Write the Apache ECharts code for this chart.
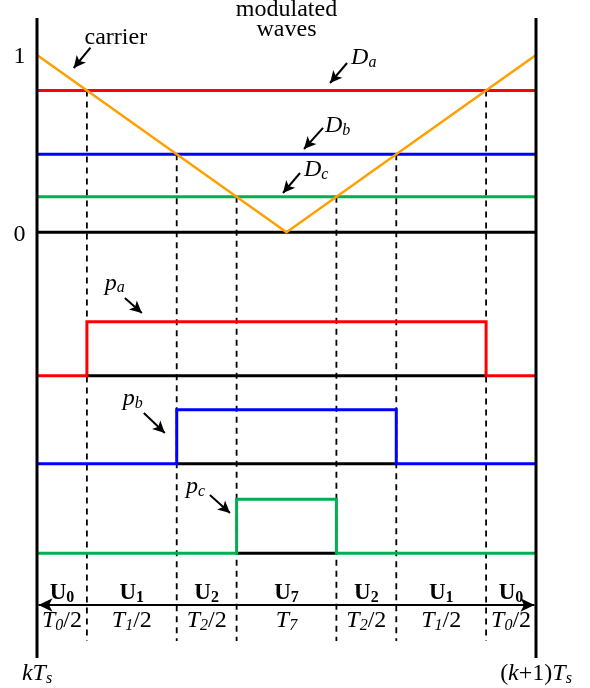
<!DOCTYPE html>
<html>
<head>
<meta charset="utf-8">
<script src="https://cdn.jsdelivr.net/npm/echarts@6/dist/echarts.min.js"></script>
<style>
  html, body { margin: 0; padding: 0; background: #fff; }
  #chart { width: 590px; height: 688px; }
</style>
</head>
<body>
<div id="chart"></div>
<script>
// One switching period kTs .. (k+1)Ts, normalised to 0 .. 1.
// Triangular carrier
const carrierTime = [0, 0.5, 1];
const carrierValue = [1, 0, 1];
const carrierTickValues = [1, 0];
const carrierTickLabels = ['1', '0'];

// Modulated waves: duty ratios of the three phases
const phaseNames = ['a', 'b', 'c'];
const dutyRatios = [0.8, 0.44, 0.2];

// Voltage vectors applied in each sub-interval and their dwell times
const vectorIndex = ['0', '1', '2', '7', '2', '1', '0'];
const dwellIndex = ['0', '1', '2', '7', '2', '1', '0'];
const dwellHalved = [true, true, true, false, true, true, true];

// ---- layout (plot units: carrier 0..1 vertically, period 0..1 horizontally)
const phaseColors = ['#ff0000', '#0000ff', '#00b050'];
const carrierColor = '#ffa000';
const Y_MAX = 1.3102, Y_MIN = -2.5702;
const AXIS_TOP = 1.2087, AXIS_BOTTOM = -2.401;
const DASH_BOTTOM = -2.305;
const ARROW_Y = -2.102;
const PULSE_BASE = [-0.8088, -1.3051, -1.8105];
const PULSE_HEIGHT = 0.3046;
const VECTOR_ROW = -2.033, DWELL_ROW = -2.19, PERIOD_ROW = -2.492;

const serif = '"Liberation Serif", "Times New Roman", serif';

// crossings of a level with the carrier (linear on each carrier segment)
function carrierCrossings(level) {
  const out = [];
  for (let i = 0; i < carrierTime.length - 1; i++) {
    const v0 = carrierValue[i], v1 = carrierValue[i + 1];
    if (v0 !== v1 && (level - v0) * (level - v1) <= 0) {
      out.push(carrierTime[i] + (level - v0) / (v1 - v0) * (carrierTime[i + 1] - carrierTime[i]));
    }
  }
  return out;
}

const switching = dutyRatios.map(d => carrierCrossings(d)); // [on, off] per phase
const boundaries = [carrierTime[0]]
  .concat(switching.map(s => s[0]).sort((a, b) => a - b))
  .concat(switching.map(s => s[1]).sort((a, b) => a - b))
  .concat([carrierTime[carrierTime.length - 1]]);

function path(points, color, width, extra) {
  return Object.assign({
    type: 'line',
    data: points,
    symbol: 'none',
    silent: true,
    animation: false,
    clip: false,
    lineStyle: { color: color, width: width, cap: 'butt', join: 'miter' },
    z: 3
  }, extra || {});
}

const series = [];

// dashed switching instants, from the crossing point down to the time axis
switching.forEach((s, i) => {
  s.forEach(t => {
    series.push(path([[t, dutyRatios[i]], [t, DASH_BOTTOM]], '#000', 1.8, {
      lineStyle: { color: '#000', width: 1.8, type: [6, 5] },
      z: 1
    }));
  });
});

// zero reference of the carrier
series.push(path([[0, 0], [1, 0]], '#000', 3, { z: 2 }));

// modulated waves
dutyRatios.forEach((d, i) => {
  series.push(path([[0, d], [1, d]], phaseColors[i], 3));
});

// switching pulses with their black reference under the high part
dutyRatios.forEach((d, i) => {
  const [on, off] = switching[i];
  const b = PULSE_BASE[i], h = b + PULSE_HEIGHT;
  series.push(path([[on, b], [off, b]], '#000', 3, { z: 2 }));
  series.push(path([[0, b], [on, b], [on, h], [off, h], [off, b], [1, b]], phaseColors[i], 3));
});

// carrier
series.push(path(carrierTime.map((t, i) => [t, carrierValue[i]]), carrierColor, 2.5, { z: 4 }));

// period boundaries kTs and (k+1)Ts
series.push(path([[0, AXIS_TOP], [0, AXIS_BOTTOM]], '#000', 3, { z: 5 }));
series.push(path([[1, AXIS_TOP], [1, AXIS_BOTTOM]], '#000', 3, { z: 5 }));

// pointer arrows of the annotations
const pointers = [
  { from: [0.1071, 1.0412], to: [0.0736, 0.9267] },   // carrier
  { from: [0.6214, 0.9549], to: [0.5873, 0.8421] },   // Da
  { from: [0.5732, 0.5890], to: [0.5351, 0.4698] },   // Db
  { from: [0.5271, 0.3345], to: [0.4930, 0.2217] },   // Dc
  { from: [0.1760, -0.3706], to: [0.2101, -0.4552] }, // pa
  { from: [0.2141, -1.0192], to: [0.2562, -1.1320] }, // pb
  { from: [0.3465, -1.4817], to: [0.3867, -1.5832] }  // pc
];
series.push({
  type: 'line', data: [], silent: true, animation: false,
  markLine: {
    silent: true, animation: false,
    symbol: ['none', 'arrow'], symbolSize: [9, 12],
    label: { show: false },
    emphasis: { disabled: true },
    lineStyle: { color: '#000', width: 2, type: 'solid' },
    data: pointers.map(p => [{ coord: p.from }, { coord: p.to }])
  }
});

// double arrow spanning the period
series.push({
  type: 'line', data: [], silent: true, animation: false,
  markLine: {
    silent: true, animation: false,
    symbol: ['arrow', 'arrow'], symbolSize: [10, 14],
    label: { show: false },
    emphasis: { disabled: true },
    lineStyle: { color: '#000', width: 2.2, type: 'solid' },
    data: [[{ coord: [0.003, ARROW_Y] }, { coord: [0.997, ARROW_Y] }]]
  }
});

const chart = echarts.init(document.getElementById('chart'));
chart.setOption({
  animation: false,
  backgroundColor: '#fff',
  grid: { left: 37, right: 54, top: 0, bottom: 0, containLabel: false },
  xAxis: { type: 'value', min: 0, max: 1, show: false },
  yAxis: { type: 'value', min: Y_MIN, max: Y_MAX, show: false },
  series: series
});

// ---- texts
const rich = {
  r: { fontFamily: serif, fontSize: 24, lineHeight: 26 },
  i: { fontFamily: serif, fontSize: 24, fontStyle: 'italic', lineHeight: 26 },
  is: { fontFamily: serif, fontSize: 16, fontStyle: 'italic', lineHeight: 14, verticalAlign: 'bottom' },
  b: { fontFamily: serif, fontSize: 23, fontWeight: 'bold', lineHeight: 26 },
  bs: { fontFamily: serif, fontSize: 16, fontWeight: 'bold', lineHeight: 14, verticalAlign: 'bottom' }
};

const texts = [
  { text: '{r|carrier}', at: [0.158, 1.10], align: 'center' },
  { text: '{r|modulated}', at: [0.5, 1.257], align: 'center' },
  { text: '{r|waves}', at: [0.5, 1.145], align: 'center' },
  { text: '{i|D}{is|' + phaseNames[0] + '}', at: [0.6294, 0.9859], align: 'left' },
  { text: '{i|D}{is|' + phaseNames[1] + '}', at: [0.5770, 0.6024], align: 'left' },
  { text: '{i|D}{is|' + phaseNames[2] + '}', at: [0.5351, 0.3542], align: 'left' },
  { text: '{i|p}{is|' + phaseNames[0] + '}', at: [0.1358, -0.2876], align: 'left' },
  { text: '{i|p}{is|' + phaseNames[1] + '}', at: [0.1720, -0.9363], align: 'left' },
  { text: '{i|p}{is|' + phaseNames[2] + '}', at: [0.2984, -1.4326], align: 'left' },
  { text: '{i|kT}{is|s}', at: [0, PERIOD_ROW], align: 'center' },
  { text: '{r|(}{i|k}{r|+1)}{i|T}{is|s}', at: [1, PERIOD_ROW], align: 'center' }
];

carrierTickValues.forEach((v, i) => {
  texts.push({ text: '{r|' + carrierTickLabels[i] + '}', at: [-0.035, v - 0.012], align: 'center' });
});

vectorIndex.forEach((k, i) => {
  const mid = (boundaries[i] + boundaries[i + 1]) / 2;
  texts.push({ text: '{b|U}{bs|' + k + '}', at: [mid, VECTOR_ROW], align: 'center' });
  const dw = '{i|T}{is|' + dwellIndex[i] + '}' + (dwellHalved[i] ? '{r|/2}' : '');
  texts.push({ text: dw, at: [mid, DWELL_ROW], align: 'center' });
});

chart.setOption({
  graphic: texts.map(t => {
    const p = chart.convertToPixel({ gridIndex: 0 }, t.at);
    return {
      type: 'text', x: p[0], y: p[1], silent: true, z: 10,
      style: {
        text: t.text, rich: rich, fill: '#000',
        align: t.align, verticalAlign: 'middle',
        fontFamily: serif, fontSize: 24
      }
    };
  })
});
</script>
</body>
</html>
